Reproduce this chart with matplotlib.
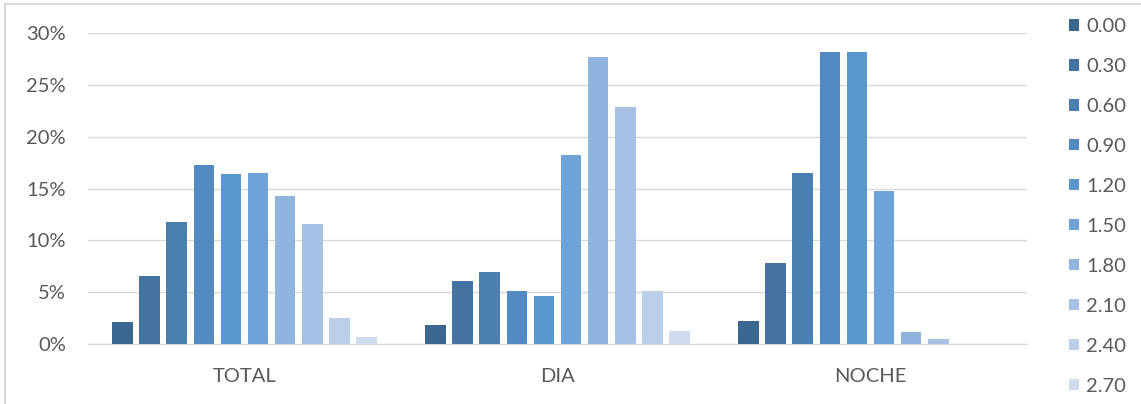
import matplotlib.pyplot as plt
import numpy as np
from matplotlib.patches import Patch, Rectangle
from matplotlib.ticker import FuncFormatter

categories = ["TOTAL", "DIA", "NOCHE"]
series_labels = ["0.00", "0.30", "0.60", "0.90", "1.20", "1.50", "1.80", "2.10", "2.40", "2.70"]

# percent per series, in order TOTAL, DIA, NOCHE
s000 = [2.15, 1.8, 2.25]
s030 = [6.6, 6.1, 7.85]
s060 = [11.8, 6.95, 16.5]
s090 = [17.25, 5.1, 28.2]
s120 = [16.4, 4.65, 28.2]
s150 = [16.5, 18.25, 14.8]
s180 = [14.3, 27.7, 1.15]
s210 = [11.55, 22.85, 0.5]
s240 = [2.5, 5.1, 0.0]
s270 = [0.65, 1.25, 0.0]
values = [s000, s030, s060, s090, s120, s150, s180, s210, s240, s270]

colors = ["#3B6690", "#4273A1", "#4A7FB2", "#528AC1", "#5997CE",
          "#6FA3D7", "#8FB4DE", "#A7C1E5", "#BCCFE9", "#CFDCF0"]

plt.rcParams['font.family'] = ['Lato', 'DejaVu Sans']
fs = 14.5
plt.rcParams['font.size'] = fs
text_col = "#595959"

fig = plt.figure(figsize=(11.41, 4.04), dpi=100)
W, H = 1141, 404
ax = fig.add_axes([88 / W, (H - 344) / H, (1027 - 88) / W, (344 - 33) / H])

x = np.arange(len(categories))
n = len(series_labels)
step = 0.0866
width = step * 0.76
for i in range(n):
    ax.bar(x + (i - (n - 1) / 2) * step, np.array(values[i]) / 100, width=width,
           color=colors[i], label=series_labels[i], zorder=3)

ax.set_xlim(-0.5, len(categories) - 0.5)
ax.set_ylim(0, 0.30)
ax.set_yticks(np.arange(0, 0.31, 0.05))
ax.yaxis.set_major_formatter(FuncFormatter(lambda v, p: "{:.0f}%".format(v * 100)))
ax.set_xticks(x)
ax.set_xticklabels(categories)
ax.grid(axis='y', color="#D9D9D9", linewidth=1, zorder=0)
for s in ["top", "right", "left"]:
    ax.spines[s].set_visible(False)
ax.spines["bottom"].set_color("#D9D9D9")
ax.tick_params(axis='both', length=0, colors=text_col, labelsize=fs)
ax.tick_params(axis='y', pad=16)
ax.tick_params(axis='x', pad=17)

handles = [Patch(facecolor=c, label=l) for c, l in zip(colors, series_labels)]
fig.legend(handles=handles, loc='upper left', bbox_to_anchor=(1069 / W, 1 - 18 / H),
           frameon=False, handlelength=0.5, handleheight=0.5, handletextpad=0.35,
           labelspacing=1.14, labelcolor=text_col, fontsize=fs, borderaxespad=0,
           borderpad=0)

# outer chart frame
fig.add_artist(Rectangle((5 / W, -0.1), 1.2, 1.1 - 4 / H, transform=fig.transFigure,
                         fill=False, edgecolor="#D9D9D9", linewidth=1.5))

fig.savefig("out.png", dpi=100)
